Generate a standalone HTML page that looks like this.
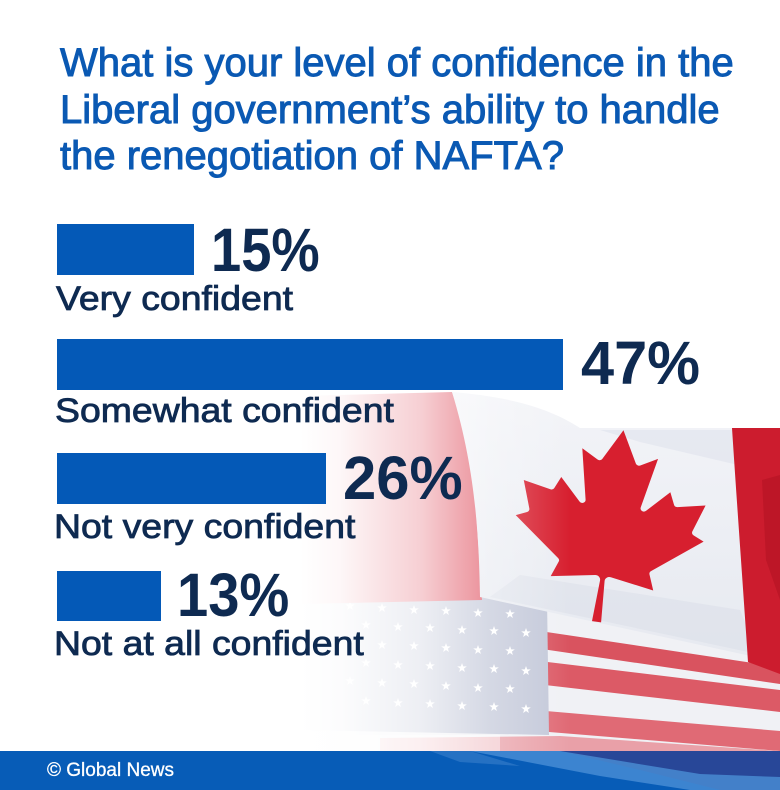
<!DOCTYPE html>
<html><head><meta charset="utf-8"><style>
html,body{margin:0;padding:0;background:#fff;}
#c{position:relative;width:780px;height:790px;overflow:hidden;background:#fff;font-family:"Liberation Sans",sans-serif;}
.t{position:absolute;white-space:nowrap;}
.title{left:60px;top:40px;font-size:40px;line-height:46.5px;color:#0a59b3;-webkit-text-stroke:1px #0a59b3;}
.lab{font-size:34px;line-height:34px;color:#0e2a51;-webkit-text-stroke:0.8px #0e2a51;transform-origin:0 0;transform:scaleX(1.1);}
.num{font-size:61px;line-height:61px;font-weight:bold;color:#0e2a51;transform-origin:0 0;}
.bar{position:absolute;background:#0459b7;}
</style></head><body><div id="c">
<svg width="780" height="790" style="position:absolute;left:0;top:0">
<defs>
<linearGradient id="fade" gradientUnits="userSpaceOnUse" x1="300" y1="0" x2="570" y2="0">
<stop offset="0" stop-color="#fff" stop-opacity="1"/>
<stop offset="0.15" stop-color="#fff" stop-opacity="0.95"/>
<stop offset="0.45" stop-color="#fff" stop-opacity="0.7"/>
<stop offset="0.7" stop-color="#fff" stop-opacity="0.3"/>
<stop offset="1" stop-color="#fff" stop-opacity="0"/>
</linearGradient>
<linearGradient id="cw" x1="0" y1="0" x2="0" y2="1">
<stop offset="0" stop-color="#f3f4f8"/>
<stop offset="1" stop-color="#e6e9f0"/>
</linearGradient>
</defs>
<!-- US flag base -->
<rect x="300" y="585" width="480" height="166" fill="#f0f1f5"/>
<polygon points="440,616 780,667 780,684 440,634" fill="#d9535f"/>
<polygon points="440,649 780,690 780,712 440,673" fill="#dc5a66"/>
<polygon points="440,702 780,731 780,751 440,723" fill="#e06a75"/>
<polygon points="380,738 560,736 780,751 380,751" fill="#e9a0a8"/>
<!-- canton -->
<polygon points="300,588 547,598 549,735 300,730" fill="#c3c8d9"/>
<g fill="#fff">
<polygon transform="translate(350,606)" points="0,-5 1.2,-1.6 4.8,-1.6 1.9,0.6 2.9,4 0,2 -2.9,4 -1.9,0.6 -4.8,-1.6 -1.2,-1.6"/>
<polygon transform="translate(382,608)" points="0,-5 1.2,-1.6 4.8,-1.6 1.9,0.6 2.9,4 0,2 -2.9,4 -1.9,0.6 -4.8,-1.6 -1.2,-1.6"/>
<polygon transform="translate(414,610)" points="0,-5 1.2,-1.6 4.8,-1.6 1.9,0.6 2.9,4 0,2 -2.9,4 -1.9,0.6 -4.8,-1.6 -1.2,-1.6"/>
<polygon transform="translate(446,611)" points="0,-5 1.2,-1.6 4.8,-1.6 1.9,0.6 2.9,4 0,2 -2.9,4 -1.9,0.6 -4.8,-1.6 -1.2,-1.6"/>
<polygon transform="translate(478,613)" points="0,-5 1.2,-1.6 4.8,-1.6 1.9,0.6 2.9,4 0,2 -2.9,4 -1.9,0.6 -4.8,-1.6 -1.2,-1.6"/>
<polygon transform="translate(510,614)" points="0,-5 1.2,-1.6 4.8,-1.6 1.9,0.6 2.9,4 0,2 -2.9,4 -1.9,0.6 -4.8,-1.6 -1.2,-1.6"/>
<polygon transform="translate(366,625)" points="0,-5 1.2,-1.6 4.8,-1.6 1.9,0.6 2.9,4 0,2 -2.9,4 -1.9,0.6 -4.8,-1.6 -1.2,-1.6"/>
<polygon transform="translate(398,627)" points="0,-5 1.2,-1.6 4.8,-1.6 1.9,0.6 2.9,4 0,2 -2.9,4 -1.9,0.6 -4.8,-1.6 -1.2,-1.6"/>
<polygon transform="translate(430,628)" points="0,-5 1.2,-1.6 4.8,-1.6 1.9,0.6 2.9,4 0,2 -2.9,4 -1.9,0.6 -4.8,-1.6 -1.2,-1.6"/>
<polygon transform="translate(462,630)" points="0,-5 1.2,-1.6 4.8,-1.6 1.9,0.6 2.9,4 0,2 -2.9,4 -1.9,0.6 -4.8,-1.6 -1.2,-1.6"/>
<polygon transform="translate(494,631)" points="0,-5 1.2,-1.6 4.8,-1.6 1.9,0.6 2.9,4 0,2 -2.9,4 -1.9,0.6 -4.8,-1.6 -1.2,-1.6"/>
<polygon transform="translate(526,633)" points="0,-5 1.2,-1.6 4.8,-1.6 1.9,0.6 2.9,4 0,2 -2.9,4 -1.9,0.6 -4.8,-1.6 -1.2,-1.6"/>
<polygon transform="translate(350,643)" points="0,-5 1.2,-1.6 4.8,-1.6 1.9,0.6 2.9,4 0,2 -2.9,4 -1.9,0.6 -4.8,-1.6 -1.2,-1.6"/>
<polygon transform="translate(382,645)" points="0,-5 1.2,-1.6 4.8,-1.6 1.9,0.6 2.9,4 0,2 -2.9,4 -1.9,0.6 -4.8,-1.6 -1.2,-1.6"/>
<polygon transform="translate(414,646)" points="0,-5 1.2,-1.6 4.8,-1.6 1.9,0.6 2.9,4 0,2 -2.9,4 -1.9,0.6 -4.8,-1.6 -1.2,-1.6"/>
<polygon transform="translate(446,648)" points="0,-5 1.2,-1.6 4.8,-1.6 1.9,0.6 2.9,4 0,2 -2.9,4 -1.9,0.6 -4.8,-1.6 -1.2,-1.6"/>
<polygon transform="translate(478,650)" points="0,-5 1.2,-1.6 4.8,-1.6 1.9,0.6 2.9,4 0,2 -2.9,4 -1.9,0.6 -4.8,-1.6 -1.2,-1.6"/>
<polygon transform="translate(510,651)" points="0,-5 1.2,-1.6 4.8,-1.6 1.9,0.6 2.9,4 0,2 -2.9,4 -1.9,0.6 -4.8,-1.6 -1.2,-1.6"/>
<polygon transform="translate(366,663)" points="0,-5 1.2,-1.6 4.8,-1.6 1.9,0.6 2.9,4 0,2 -2.9,4 -1.9,0.6 -4.8,-1.6 -1.2,-1.6"/>
<polygon transform="translate(398,665)" points="0,-5 1.2,-1.6 4.8,-1.6 1.9,0.6 2.9,4 0,2 -2.9,4 -1.9,0.6 -4.8,-1.6 -1.2,-1.6"/>
<polygon transform="translate(430,666)" points="0,-5 1.2,-1.6 4.8,-1.6 1.9,0.6 2.9,4 0,2 -2.9,4 -1.9,0.6 -4.8,-1.6 -1.2,-1.6"/>
<polygon transform="translate(462,668)" points="0,-5 1.2,-1.6 4.8,-1.6 1.9,0.6 2.9,4 0,2 -2.9,4 -1.9,0.6 -4.8,-1.6 -1.2,-1.6"/>
<polygon transform="translate(494,669)" points="0,-5 1.2,-1.6 4.8,-1.6 1.9,0.6 2.9,4 0,2 -2.9,4 -1.9,0.6 -4.8,-1.6 -1.2,-1.6"/>
<polygon transform="translate(526,671)" points="0,-5 1.2,-1.6 4.8,-1.6 1.9,0.6 2.9,4 0,2 -2.9,4 -1.9,0.6 -4.8,-1.6 -1.2,-1.6"/>
<polygon transform="translate(350,681)" points="0,-5 1.2,-1.6 4.8,-1.6 1.9,0.6 2.9,4 0,2 -2.9,4 -1.9,0.6 -4.8,-1.6 -1.2,-1.6"/>
<polygon transform="translate(382,683)" points="0,-5 1.2,-1.6 4.8,-1.6 1.9,0.6 2.9,4 0,2 -2.9,4 -1.9,0.6 -4.8,-1.6 -1.2,-1.6"/>
<polygon transform="translate(414,684)" points="0,-5 1.2,-1.6 4.8,-1.6 1.9,0.6 2.9,4 0,2 -2.9,4 -1.9,0.6 -4.8,-1.6 -1.2,-1.6"/>
<polygon transform="translate(446,686)" points="0,-5 1.2,-1.6 4.8,-1.6 1.9,0.6 2.9,4 0,2 -2.9,4 -1.9,0.6 -4.8,-1.6 -1.2,-1.6"/>
<polygon transform="translate(478,688)" points="0,-5 1.2,-1.6 4.8,-1.6 1.9,0.6 2.9,4 0,2 -2.9,4 -1.9,0.6 -4.8,-1.6 -1.2,-1.6"/>
<polygon transform="translate(510,689)" points="0,-5 1.2,-1.6 4.8,-1.6 1.9,0.6 2.9,4 0,2 -2.9,4 -1.9,0.6 -4.8,-1.6 -1.2,-1.6"/>
<polygon transform="translate(366,701)" points="0,-5 1.2,-1.6 4.8,-1.6 1.9,0.6 2.9,4 0,2 -2.9,4 -1.9,0.6 -4.8,-1.6 -1.2,-1.6"/>
<polygon transform="translate(398,703)" points="0,-5 1.2,-1.6 4.8,-1.6 1.9,0.6 2.9,4 0,2 -2.9,4 -1.9,0.6 -4.8,-1.6 -1.2,-1.6"/>
<polygon transform="translate(430,704)" points="0,-5 1.2,-1.6 4.8,-1.6 1.9,0.6 2.9,4 0,2 -2.9,4 -1.9,0.6 -4.8,-1.6 -1.2,-1.6"/>
<polygon transform="translate(462,706)" points="0,-5 1.2,-1.6 4.8,-1.6 1.9,0.6 2.9,4 0,2 -2.9,4 -1.9,0.6 -4.8,-1.6 -1.2,-1.6"/>
<polygon transform="translate(494,707)" points="0,-5 1.2,-1.6 4.8,-1.6 1.9,0.6 2.9,4 0,2 -2.9,4 -1.9,0.6 -4.8,-1.6 -1.2,-1.6"/>
<polygon transform="translate(526,709)" points="0,-5 1.2,-1.6 4.8,-1.6 1.9,0.6 2.9,4 0,2 -2.9,4 -1.9,0.6 -4.8,-1.6 -1.2,-1.6"/>
</g>
<!-- Canadian flag left red (faded) -->
<polygon points="300,396 452,392 472,450 482,600 300,604" fill="#e25e6c"/>
<!-- Canadian white -->
<path d="M452,392 C500,396 545,405 580,428 L780,428 L780,668 L760,658 L480,597 C479,540 476,470 452,392 Z" fill="url(#cw)"/>
<path d="M520,575 L740,610 L758,654 L490,597 Z" fill="#dadde7" opacity="0.5"/>
<path d="M600,430 L735,430 L738,465 L640,442 Z" fill="#e0e3ec" opacity="0.6"/>
<!-- right red band -->
<path d="M732,428 L780,428 L780,674 L748,662 C744,600 738,520 732,428 Z" fill="#cc1c2e"/>
<path d="M762,480 L780,475 L780,600 L766,560 Z" fill="#a8101f" opacity="0.4"/>
<!-- maple leaf -->
<path transform="translate(610,526) rotate(8) scale(0.051,0.048) translate(-4800,-2415)" fill="#d71f2f" d="M4890 4430 l-45-863 a95 95 0 0 1 111-98 l859 151 -116-320 a65 65 0 0 1 20-73 l941-762 -212-99 a65 65 0 0 1-34-79 l186-572 -542 115 a65 65 0 0 1-73-38 l-105-247 -423 454 a65 65 0 0 1-111-57 l204-1052 -327 189 a65 65 0 0 1-91-27 l-332-652 -332 652 a65 65 0 0 1-91 27 l-327-189 204 1052 a65 65 0 0 1-111 57 l-423-454 -105 247 a65 65 0 0 1-73 38 l-542-115 186 572 a65 65 0 0 1-34 79 l-212 99 941 762 a65 65 0 0 1 20 73 l-116 320 859-151 a95 95 0 0 1 111 98 l-45 863 z"/>
<!-- fade overlay -->
<rect x="0" y="370" width="600" height="381" fill="url(#fade)"/>
<rect x="300" y="735" width="200" height="16" fill="#fff" opacity="0.45"/>
<!-- footer -->
<rect x="0" y="751" width="780" height="39" fill="#075cb7"/>
<polygon points="560,751 780,751 780,790 720,790 640,770" fill="#34408e" opacity="0.75"/>
<polygon points="470,751 560,751 700,774 780,777 780,790 690,790 600,776" fill="#4a8fd6" opacity="0.8"/>
<polygon points="430,751 470,751 520,766 460,762" fill="#3a7fcc" opacity="0.6"/>
</svg>

<div class="t title">What is your level of confidence in the<br>Liberal government’s ability to handle<br>the renegotiation of NAFTA?</div>

<div class="bar" style="left:57px;top:224px;width:137px;height:51px;"></div>
<div class="t num" style="left:211px;top:220px;transform:scaleX(0.89);">15%</div>
<div class="t lab" style="left:56px;top:282px;">Very confident</div>

<div class="bar" style="left:57px;top:339px;width:506px;height:51px;"></div>
<div class="t num" style="left:581px;top:333px;transform:scaleX(0.975);">47%</div>
<div class="t lab" style="left:55px;top:394px;">Somewhat confident</div>

<div class="bar" style="left:57px;top:453px;width:269px;height:51px;"></div>
<div class="t num" style="left:343px;top:448px;transform:scaleX(0.98);">26%</div>
<div class="t lab" style="left:54px;top:510px;">Not very confident</div>

<div class="bar" style="left:57px;top:571px;width:104px;height:50px;"></div>
<div class="t num" style="left:177px;top:565px;transform:scaleX(0.92);">13%</div>
<div class="t lab" style="left:54px;top:627px;">Not at all confident</div>

<div class="t" style="left:47px;top:761px;font-size:19px;line-height:19px;color:#fff;-webkit-text-stroke:0.3px #fff;">© Global News</div>
</div></body></html>
